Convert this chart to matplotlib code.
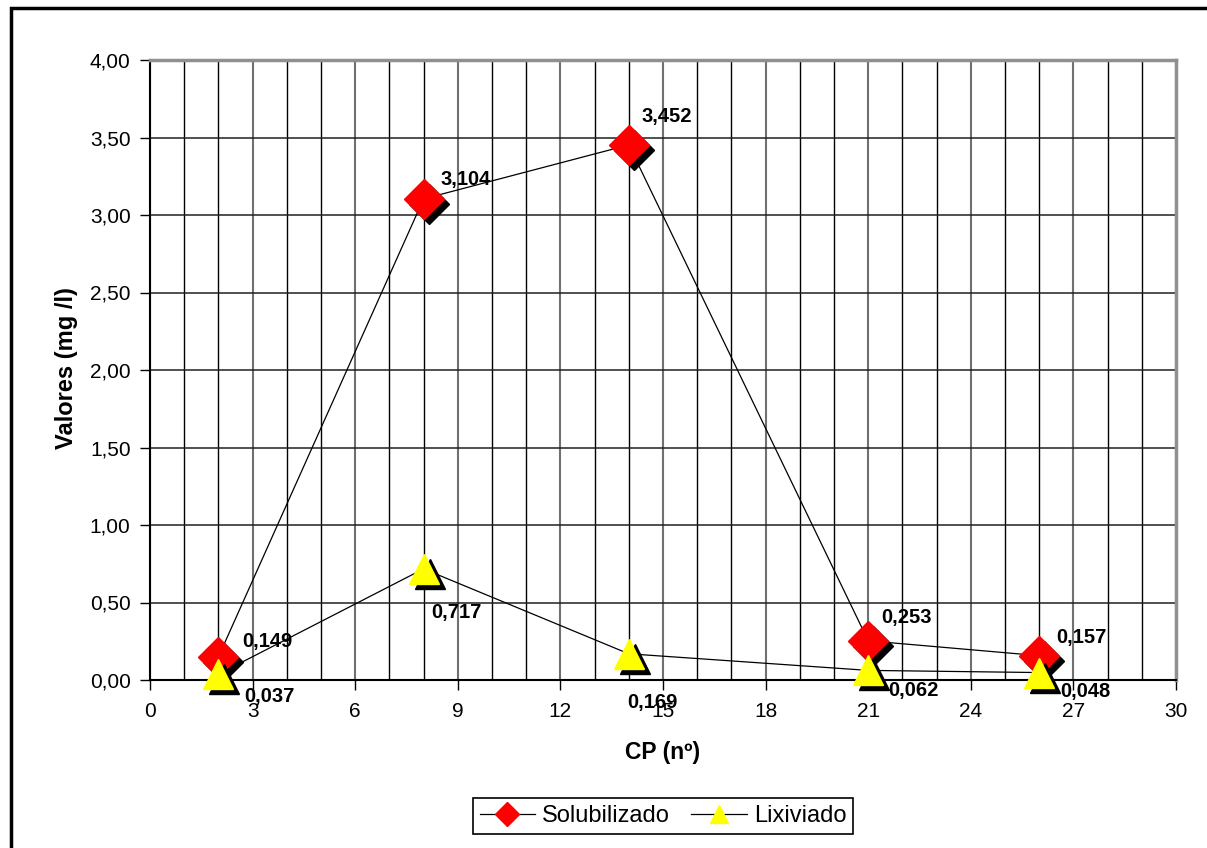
import matplotlib
matplotlib.use("Agg")
import matplotlib.pyplot as plt
from matplotlib.transforms import ScaledTranslation
from matplotlib.patches import Rectangle
from matplotlib.ticker import MultipleLocator, FuncFormatter
from matplotlib.lines import Line2D

plt.rcParams['font.family'] = ['Liberation Sans', 'DejaVu Sans']

cp = [2, 8, 14, 21, 26]
solubilizado = [0.149, 3.104, 3.452, 0.253, 0.157]
lixiviado = [0.037, 0.717, 0.169, 0.062, 0.048]
sol_labels = ["0,149", "3,104", "3,452", "0,253", "0,157"]
lix_labels = ["0,037", "0,717", "0,169", "0,062", "0,048"]

# label offsets in pixels (dx right, dy down)
sol_off = [(24, -15), (17, -19), (13, -28), (13, -23), (17, -18)]
lix_off = [(26, 22), (8, 44), (-2, 49), (20, 20), (21, 19)]

W, H = 1207, 848
fig = plt.figure(figsize=(W / 100, H / 100), dpi=100)
ax = fig.add_axes([150 / W, 1 - 680 / H, (1176 - 150) / W, (680 - 60) / H])

ax.set_xlim(0, 30)
ax.set_ylim(0, 4)
ax.xaxis.set_major_locator(MultipleLocator(3))
ax.xaxis.set_minor_locator(MultipleLocator(1))
ax.yaxis.set_major_locator(MultipleLocator(0.5))
ax.yaxis.set_major_formatter(FuncFormatter(lambda v, p: f"{v:.2f}".replace('.', ',')))
ax.xaxis.set_major_formatter(FuncFormatter(lambda v, p: f"{int(round(v))}"))

ax.xaxis.grid(True, which='major', color='#707070', linewidth=1.5)
ax.xaxis.grid(True, which='minor', color='#000000', linewidth=1.0)
ax.yaxis.grid(True, which='major', color='#202020', linewidth=1.1)
ax.set_axisbelow(True)
ax.tick_params(axis='both', which='major', direction='out', length=7, width=1,
               labelsize=15, color='black')
ax.tick_params(axis='x', which='major', pad=9)
ax.tick_params(axis='y', which='major', pad=7)
ax.tick_params(axis='x', which='minor', length=0)
for s in ['left', 'bottom']:
    ax.spines[s].set_color('black')
    ax.spines[s].set_linewidth(1.5)
for s in ['top', 'right']:
    ax.spines[s].set_color('#909090')
    ax.spines[s].set_linewidth(2.5)

shadow = ScaledTranslation(5 / 100, -5 / 100, fig.dpi_scale_trans)
shadow_t = ScaledTranslation(6 / 100, -5 / 100, fig.dpi_scale_trans)

# Solubilizado
ax.plot(cp, solubilizado, color='black', linewidth=0.9, zorder=3)
ax.plot(cp, solubilizado, linestyle='none', marker='D', markersize=20,
        color='black', transform=ax.transData + shadow, zorder=4, clip_on=False)
ax.plot(cp, solubilizado, linestyle='none', marker='D', markersize=20,
        markerfacecolor='#ff0000', markeredgecolor='#ff0000', zorder=5, clip_on=False)

# Lixiviado
ax.plot(cp, lixiviado, color='black', linewidth=0.9, zorder=6)
ax.plot(cp, lixiviado, linestyle='none', marker='^', markersize=21,
        color='black', transform=ax.transData + shadow_t, zorder=7, clip_on=False)
ax.plot(cp, lixiviado, linestyle='none', marker='^', markersize=21,
        markerfacecolor='#ffff00', markeredgecolor='#ffff00', zorder=8, clip_on=False)

for x, y, t, (dx, dy) in zip(cp, solubilizado, sol_labels, sol_off):
    ax.annotate(t, (x, y), xytext=(dx * 0.72, -dy * 0.72), textcoords='offset points',
                ha='left', va='center', fontsize=14.5, fontweight='bold',
                zorder=10, annotation_clip=False)
for x, y, t, (dx, dy) in zip(cp, lixiviado, lix_labels, lix_off):
    ax.annotate(t, (x, y), xytext=(dx * 0.72, -dy * 0.72), textcoords='offset points',
                ha='left', va='center', fontsize=14.5, fontweight='bold',
                zorder=10, annotation_clip=False)

fig.text(67 / W, 1 - 368 / H, "Valores (mg /l)", rotation=90, ha='center', va='center',
         fontsize=17, fontweight='bold')
fig.text(663 / W, 1 - 753 / H, "CP (nº)", ha='center', va='center',
         fontsize=16.5, fontweight='bold')

handles = [
    Line2D([], [], color='black', linewidth=0.9, marker='D', markersize=12,
           markerfacecolor='#ff0000', markeredgecolor='#ff0000'),
    Line2D([], [], color='black', linewidth=0.9, marker='^', markersize=13,
           markerfacecolor='#ffff00', markeredgecolor='#ffff00'),
]
leg = fig.legend(handles, ["Solubilizado", "Lixiviado"], loc='center',
                 bbox_to_anchor=(663 / W, 1 - 816 / H), ncol=2, fontsize=17,
                 frameon=True, fancybox=False, edgecolor='black', framealpha=1,
                 handlelength=2.35, columnspacing=0.9, handletextpad=0.3,
                 borderpad=0.3, borderaxespad=0)
leg.get_frame().set_linewidth(1.2)

fig.patches.append(Rectangle((11 / W, -0.1), 1.2, 1 - 8 / H + 0.1,
                             transform=fig.transFigure, fill=False,
                             edgecolor='black', linewidth=2.5))

fig.savefig("out.png", dpi=100)
